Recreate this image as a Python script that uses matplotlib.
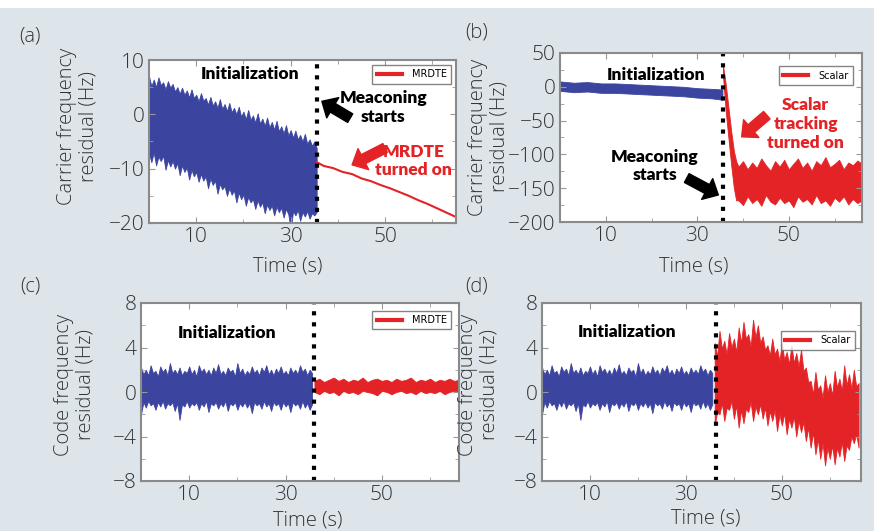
import numpy as np
import matplotlib.pyplot as plt
from matplotlib.patches import Rectangle
from matplotlib.lines import Line2D

# sample times (s)
t_init = np.arange(0, 36, 0.5)          # initialization, 0 .. 35.5
t_after = [36, 37, 38, 39, 40, 41, 42, 43, 44, 45, 46, 47, 48, 49, 50, 51,
           52, 53, 54, 55, 56, 57, 58, 59, 60, 61, 62, 63, 64, 65, 66]
t_after_fine = np.arange(36, 66.5, 0.5)

# (a) carrier residual, initialization (blue envelope)
a_init_hi = [7.0, 5.2, 6.4, 5.0, 6.8, 5.4, 5.9, 4.6, 6.1, 4.9, 5.6, 4.2, 5.0, 3.8, 4.9, 3.6,
             4.4, 3.1, 4.6, 3.0, 3.6, 2.4, 3.9, 2.5, 3.0, 1.8, 3.2, 1.6, 2.4, 1.2, 2.8, 1.0,
             1.9, 0.6, 2.1, 0.4, 1.2, 0.0, 1.4, -0.4, 0.5, -0.9, 0.8, -1.0, -0.2, -1.5, 0.2,
             -1.7, -0.8, -2.1, -0.6, -2.4, -1.4, -2.8, -1.2, -3.1, -2.2, -3.5, -2.0, -3.9,
             -2.9, -4.3, -3.0, -4.6, -3.8, -5.0, -3.6, -5.4, -4.6, -5.8, -5.0, -6.2]
a_init_lo = [-7.2, -8.8, -7.0, -9.4, -7.8, -8.6, -7.6, -10.2, -8.4, -9.6, -8.6, -10.0, -9.0,
             -11.2, -9.4, -10.6, -9.8, -12.0, -10.2, -11.4, -10.6, -12.4, -11.0, -12.2,
             -11.4, -13.6, -11.8, -13.0, -12.2, -14.6, -12.8, -13.8, -13.2, -15.0, -13.6,
             -14.8, -14.0, -16.2, -14.4, -15.6, -14.8, -16.8, -15.2, -16.2, -15.6, -17.4,
             -15.8, -17.0, -16.2, -18.2, -16.6, -17.6, -16.8, -18.6, -17.0, -18.0, -17.2,
             -19.0, -17.4, -18.4, -21.2, -17.8, -18.6, -17.6, -19.6, -18.0, -18.8, -17.8,
             -19.2, -18.2, -18.6, -18.0]
# (a) MRDTE
t_a_mrdte = [35.5, 37, 39, 41, 43, 45, 47, 49, 51, 53, 55, 57, 59, 61, 63, 65]
a_mrdte = [-8.8, -9.5, -9.9, -10.6, -11.0, -11.8, -12.3, -13.0, -13.6, -14.3, -15.0,
           -15.8, -16.5, -17.3, -18.1, -18.9]

# (b) carrier residual, initialization
t_b_init = [0, 3, 6, 9, 12, 15, 18, 21, 24, 27, 30, 33, 35.5]
b_init_hi = [8, 6, 7, 5, 5, 4, 3, 2, 1, 0, -2, -3, -4]
b_init_lo = [-6, -8, -7, -9, -9, -10, -11, -12, -13, -14, -16, -17, -19]
# (b) scalar
t_b_scalar = [35.6, 36.2, 36.8, 37.4, 38.0, 38.5, 39, 40, 41, 42, 43, 44, 45, 46, 47, 48,
              49, 50, 51, 52, 53, 54, 55, 56, 57, 58, 59, 60, 61, 62, 63, 64, 65, 66]
b_scalar_hi = [32, 5, -30, -65, -95, -110, -118, -110, -122, -112, -120, -106, -116, -124,
               -110, -118, -108, -122, -114, -106, -120, -112, -124, -110, -116, -104,
               -119, -114, -108, -122, -112, -116, -109, -114]
b_scalar_lo = [18, -35, -75, -115, -150, -168, -168, -175, -162, -172, -166, -176, -160,
               -170, -174, -164, -172, -168, -178, -162, -170, -166, -174, -160, -172,
               -168, -176, -164, -170, -162, -174, -166, -172, -168]

# (c), (d) code residual, initialization
code_init_hi = [2.2, 1.6, 2.0, 1.5, 2.4, 1.7, 1.9, 1.4, 2.3, 1.8,
                2.1, 1.5, 2.6, 1.7, 2.0, 1.6, 2.2, 1.5, 1.9, 1.7,
                2.3, 1.6, 2.0, 1.4, 2.4, 1.8, 2.1, 1.6, 2.0, 1.5,
                2.2, 1.7, 2.5, 1.6, 1.9, 1.5, 2.2, 1.8, 2.0, 1.4,
                2.6, 1.7, 2.1, 1.5, 1.9, 1.6, 2.3, 1.7, 2.0, 1.5,
                2.2, 1.8, 2.4, 1.6, 2.0, 1.5, 2.1, 1.7, 2.3, 1.6,
                1.9, 1.5, 2.2, 1.7, 2.0, 1.6, 2.4, 1.8, 2.1, 1.5,
                2.0, 1.7]
code_init_lo = [-2.0, -0.9, -1.4, -0.8, -1.2, -1.0, -1.6, -0.9, -1.3, -0.8,
                -1.5, -1.0, -1.2, -0.9, -1.7, -1.0, -2.5, -1.1, -1.3, -0.8,
                -1.4, -1.0, -1.2, -0.9, -1.6, -1.0, -1.3, -0.8, -1.8, -1.0,
                -1.2, -0.9, -1.5, -1.0, -1.3, -0.8, -1.7, -1.0, -1.2, -0.9,
                -1.6, -1.0, -1.3, -0.9, -1.4, -1.0, -1.9, -0.9, -1.2, -1.0,
                -1.5, -0.8, -1.3, -1.0, -1.7, -0.9, -1.2, -1.0, -1.6, -0.9,
                -1.3, -1.0, -1.8, -0.9, -1.2, -1.0, -1.5, -0.8, -1.4, -1.0,
                -1.6, -1.1]
# (c) MRDTE
c_mrdte_hi = [1.0, 1.2, 0.9, 1.1, 1.3, 1.0, 1.2, 0.9, 1.1, 1.0, 1.3, 0.9, 1.1, 1.2, 1.0,
              1.1, 0.9, 1.2, 1.0, 1.1, 1.3, 0.9, 1.1, 1.0, 1.2, 0.9, 1.1, 1.0, 1.2, 1.0, 1.1]
c_mrdte_lo = [0.0, -0.2, 0.1, -0.1, 0.0, -0.3, 0.1, -0.1, 0.0, -0.2, 0.1, 0.0, -0.1, -0.3,
              0.1, 0.0, -0.2, 0.0, 0.1, -0.1, 0.0, -0.2, 0.1, -0.1, 0.0, -0.1, 0.1, -0.2,
              0.0, 0.1, 0.0]
# (d) scalar
d_scalar_hi = [4.4, 3.2, 5.5, 3.9, 4.6, 3.4, 5.3, 4.0, 4.8, 3.6, 5.8, 4.4, 6.3, 4.8, 5.2,
               4.1, 6.5, 4.9, 6.0, 4.4, 5.0, 3.8, 4.2, 3.3, 4.8, 3.4, 3.9, 2.8, 4.4, 2.9,
               3.6, 2.5, 4.2, 2.6, 3.5, 2.3, 3.8, 1.9, 2.2, 0.9, 1.0, -0.2, 1.8, 0.2, 0.6,
               -0.5, 1.5, 0.0, 0.8, -0.3, 1.9, 0.4, 1.2, 0.1, 2.4, 0.6, 1.6, 0.3, 2.0, 0.5,
               0.8]
d_scalar_lo = [-3.0, -1.8, -2.0, -1.0, -2.6, -1.4, -1.6, -0.8, -2.4, -1.2, -3.2, -1.6, -2.8,
               -1.5, -1.8, -0.9, -2.6, -1.3, -2.0, -1.1, -2.4, -1.4, -3.0, -1.7, -2.6, -1.6,
               -3.5, -2.0, -3.0, -1.9, -3.8, -2.4, -3.2, -2.2, -4.0, -2.6, -3.6, -2.7, -4.4,
               -3.2, -5.0, -3.6, -5.6, -4.2, -6.0, -4.6, -6.6, -5.0, -6.0, -4.8, -6.5, -5.0,
               -5.8, -4.5, -6.2, -4.8, -5.2, -4.0, -4.6, -3.8, -5.0]

blue = '#3b45a0'
red = '#e42326'
bg = '#dde5ea'
light = 'Open Sans'
bold = 'Lato'

W, H = 874, 531
fig = plt.figure(figsize=(W / 100, H / 100), dpi=100, facecolor=bg)
fig.patches.append(Rectangle((0, 1 - 8 / H), 1, 8 / H, transform=fig.transFigure,
                             facecolor='white', edgecolor='none'))


def box(l, t, r, b):
    return [l / W, 1 - b / H, (r - l) / W, (b - t) / H]


def style(ax, xlim, ylim, yticks, yminor):
    ax.set_xlim(xlim)
    ax.set_ylim(ylim)
    ax.set_xticks([10, 30, 50])
    ax.set_xticks([20, 40, 60], minor=True)
    ax.set_yticks(yticks)
    ax.set_yticks(yminor, minor=True)
    ax.set_yticklabels([str(v).replace('-', '\u2212') for v in yticks])
    ax.tick_params(which='both', direction='in', top=True, right=True, color='#999999',
                   labelsize=15, labelcolor='#333333', pad=3)
    ax.tick_params(which='major', length=4)
    ax.tick_params(which='minor', length=3)
    for lab in ax.get_xticklabels() + ax.get_yticklabels():
        lab.set_fontfamily(light)
        lab.set_fontweight('light')
    for s in ax.spines.values():
        s.set_color('#8a8a8a')
        s.set_linewidth(1.5)


def txt(x, y, s, **kw):
    fig.text(x / W, 1 - y / H, s, ha='center', va='center', **kw)


def note(ax, x, y, s, color='black'):
    ax.text(x, y, s, ha='center', va='center', fontsize=12.5, fontweight='heavy',
            family=bold, color=color, linespacing=1.2)


def arrow(ax, tail, head, color):
    ax.annotate('', xy=head, xytext=tail,
                arrowprops=dict(arrowstyle='simple,head_length=0.7,head_width=1.3,tail_width=0.55',
                                color=color, mutation_scale=13, shrinkA=0, shrinkB=0))


def legend(ax, label, anchor):
    h = Line2D([], [], color=red, lw=3)
    ax.legend([h], [label], loc='upper right', bbox_to_anchor=anchor, fontsize=7,
              handlelength=2.6, frameon=True, fancybox=False, edgecolor='#666666',
              borderpad=0.45, handletextpad=1.0)


# (a)
ax = fig.add_axes(box(149, 60, 456, 223))
ax.fill_between(t_init, a_init_lo, a_init_hi, color=blue, lw=0.6)
ax.plot(t_a_mrdte, a_mrdte, color=red, lw=1.5)
ax.axvline(35.5, color='black', ls=':', lw=3)
style(ax, (0, 65), (-20, 10), [-20, -10, 0, 10], [-15, -5, 5])
legend(ax, 'MRDTE', (1.0, 1.0))
note(ax, 21.4, 7.4, 'Initialization')
note(ax, 49.6, 1.3, 'Meaconing\nstarts')
arrow(ax, (42.6, -0.7), (36.6, 2.4), 'black')
note(ax, 56.0, -8.6, 'MRDTE\nturned on', red)
arrow(ax, (50.0, -6.2), (43.0, -9.3), red)

# (b)
ax = fig.add_axes(box(560, 53, 862, 222))
ax.fill_between(t_b_init, b_init_lo, b_init_hi, color=blue, lw=0.6)
ax.fill_between(t_b_scalar, b_scalar_lo, b_scalar_hi, color=red, lw=0.6)
ax.axvline(35.6, color='black', ls=':', lw=3)
style(ax, (0, 66), (-200, 50), [-200, -150, -100, -50, 0, 50],
      [-175, -125, -75, -25, 25])
legend(ax, 'Scalar', (0.985, 0.95))
note(ax, 21.0, 17.5, 'Initialization')
note(ax, 20.7, -117, 'Meaconing\nstarts')
arrow(ax, (27.7, -135), (34.6, -160), 'black')
note(ax, 53.7, -55, 'Scalar\ntracking\nturned on', red)
arrow(ax, (45.2, -42), (39.7, -74), red)

# (c)
ax = fig.add_axes(box(141, 303, 459, 481))
ax.fill_between(t_init, code_init_lo, code_init_hi, color=blue, lw=0.6)
ax.fill_between(t_after, c_mrdte_lo, c_mrdte_hi, color=red, lw=0.6)
ax.axvline(36, color='black', ls=':', lw=3)
style(ax, (0, 66), (-8, 8), [-8, -4, 0, 4, 8], [-6, -2, 2, 6])
legend(ax, 'MRDTE', (0.99, 0.985))
note(ax, 17.8, 5.3, 'Initialization')

# (d)
ax = fig.add_axes(box(542, 303, 861, 481))
ax.fill_between(t_init, code_init_lo, code_init_hi, color=blue, lw=0.6)
ax.fill_between(t_after_fine, d_scalar_lo, d_scalar_hi, color=red, lw=0.6)
ax.axvline(36.2, color='black', ls=':', lw=3)
style(ax, (0, 66.5), (-8, 8), [-8, -4, 0, 4, 8], [-6, -2, 2, 6])
legend(ax, 'Scalar', (0.995, 0.87))
note(ax, 17.7, 5.4, 'Initialization')

# labels
lab_kw = dict(fontsize=14.5, color='#333333', family=light, fontweight='light')
txt(30, 36, '(a)', **lab_kw)
txt(477, 33, '(b)', **lab_kw)
txt(30, 287, '(c)', **lab_kw)
txt(477, 287, '(d)', **lab_kw)
txt(78, 126, 'Carrier frequency\nresidual (Hz)', rotation=90, linespacing=1.1, **lab_kw)
txt(489, 137, 'Carrier frequency\nresidual (Hz)', rotation=90, linespacing=1.1, **lab_kw)
txt(75, 385, 'Code frequency\nresidual (Hz)', rotation=90, linespacing=1.1, **lab_kw)
txt(479, 385, 'Code frequency\nresidual (Hz)', rotation=90, linespacing=1.1, **lab_kw)
txt(288, 267, 'Time (s)', **lab_kw)
txt(694, 267, 'Time (s)', **lab_kw)
txt(308, 520, 'Time (s)', **lab_kw)
txt(706, 518, 'Time (s)', **lab_kw)

fig.savefig('out.png', dpi=100, facecolor=bg)
